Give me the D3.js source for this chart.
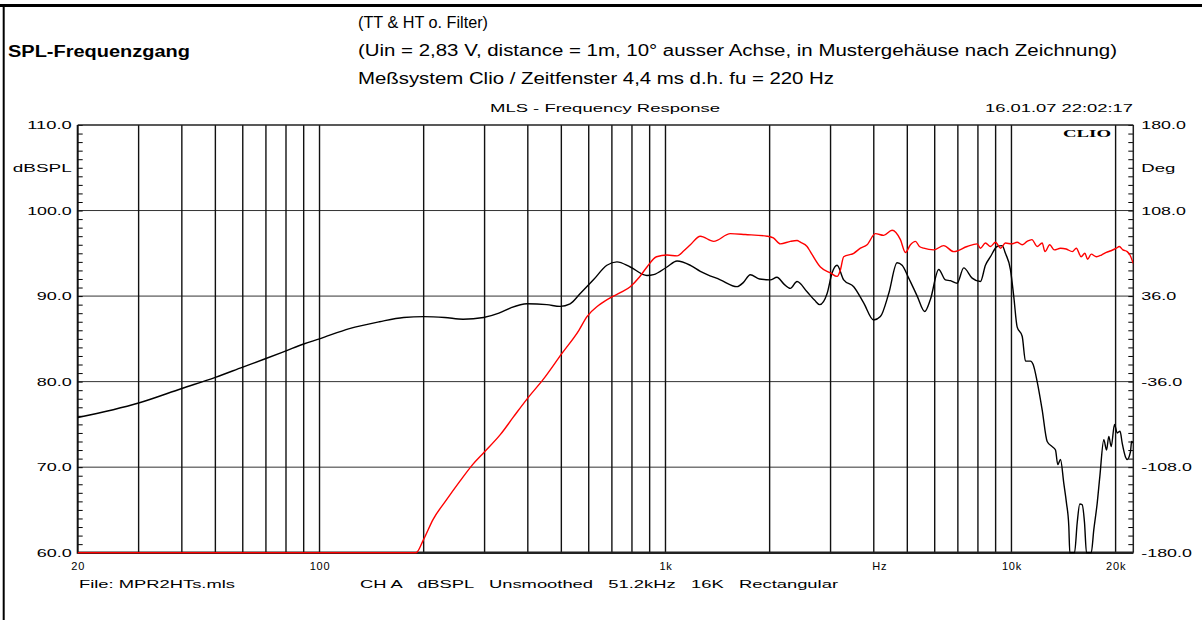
<!DOCTYPE html>
<html>
<head>
<meta charset="utf-8">
<script src="https://cdn.jsdelivr.net/npm/d3@7"></script>
<style>
body { margin: 0; background: #fff; }
svg { display: block; font-family: "Liberation Sans", Arial, sans-serif; }
</style>
</head>
<body>
<svg id="chart" width="1202" height="620"></svg>
<script>
// black curve (TT)
var ttFreq = [20, 30, 40, 50, 60, 70, 80, 90, 100, 122, 149, 175, 200, 230, 260, 298, 330, 356, 398, 454, 496, 530, 567, 619, 677, 724, 791, 884, 924, 1010, 1080, 1180, 1261, 1440, 1610, 1680, 1758, 1870, 2009, 2100, 2200, 2296, 2400, 2566, 2700, 2790, 2932, 3030, 3133, 3274, 3500, 3740, 3997, 4180, 4418, 4671, 4830, 5047, 5340, 5614, 5830, 6162, 6444, 6662, 6966, 7278, 7698, 8134, 8410, 8695, 9090, 9398, 9606, 9932, 10152, 10386, 10740, 10980, 11350, 11554, 11866, 12268, 12684, 13114, 13404, 13612, 13860, 14168, 14424, 14648, 14746, 15216, 15490, 15760, 16014, 16262, 16478, 17004, 17300, 17696, 18006, 18492, 18826, 19118, 19422, 19854, 20214, 20600, 20898, 21360, 21600, 22080, 22250, 22500];
var ttLevel = [75.8, 77.5, 79.2, 80.5, 81.7, 82.7, 83.6, 84.4, 85.0, 86.2, 87.0, 87.5, 87.6, 87.5, 87.3, 87.5, 88.0, 88.6, 89.1, 89.0, 88.8, 89.1, 90.3, 91.9, 93.6, 94.0, 93.4, 92.4, 92.5, 93.4, 94.1, 93.6, 92.9, 91.9, 91.1, 91.6, 92.5, 92.0, 91.9, 92.2, 91.4, 90.9, 91.7, 90.5, 89.5, 89.0, 90.3, 92.7, 93.6, 91.9, 91.1, 89.2, 87.2, 87.6, 90.3, 93.9, 93.6, 92.1, 90.0, 88.2, 89.6, 93.1, 91.9, 91.8, 91.5, 93.3, 92.1, 91.7, 93.6, 94.6, 95.8, 95.9, 95.0, 93.1, 90.0, 86.4, 85.3, 82.4, 82.4, 82.0, 80.0, 76.7, 73.0, 72.4, 72.0, 70.3, 70.9, 68.1, 65.8, 63.1, 60.0, 60.0, 63.5, 65.7, 65.6, 63.5, 60.0, 60.0, 62.7, 65.8, 68.9, 73.2, 72.0, 73.6, 72.4, 75.0, 74.0, 74.2, 72.8, 71.2, 70.9, 71.8, 73.0, 72.8];

// red curve (HT)
var htFreq = [20, 100, 190, 199.6, 213, 233, 254, 277, 300, 333, 364, 404, 442, 502, 562, 593, 640, 692, 740, 791, 840, 884, 942, 1010, 1080, 1130, 1180, 1261, 1378, 1540, 1700, 1966, 2050, 2148, 2296, 2400, 2454, 2566, 2622, 2804, 3000, 3133, 3200, 3274, 3500, 3660, 3826, 4043, 4272, 4518, 4776, 4938, 5105, 5278, 5420, 5577, 5961, 6371, 6810, 7446, 7960, 8134, 8410, 8695, 8990, 9300, 9606, 10000, 10386, 10740, 11100, 11460, 11866, 12268, 12500, 12900, 13300, 13860, 14400, 15000, 15400, 15900, 16300, 16600, 17000, 17600, 18200, 18800, 19400, 20100, 20500, 21000, 21600, 22000, 22500];
var htLevel = [60, 60, 60, 61.5, 63.9, 66.2, 68.3, 70.3, 71.8, 73.8, 75.9, 78.3, 80.2, 83.3, 86.0, 87.6, 88.9, 89.8, 90.4, 91.1, 92.2, 93.4, 94.6, 94.8, 94.7, 95.3, 96.0, 97.0, 96.4, 97.3, 97.2, 97.0, 96.8, 96.1, 96.4, 96.5, 96.3, 95.8, 95.2, 93.4, 92.7, 92.3, 93.0, 94.6, 95.0, 95.6, 96.0, 97.3, 97.1, 97.7, 96.6, 95.1, 96.0, 96.4, 95.8, 95.6, 95.4, 95.9, 95.2, 95.8, 96.1, 95.6, 96.2, 95.8, 96.3, 95.6, 96.2, 96.1, 96.3, 96.0, 96.4, 96.6, 95.8, 96.2, 95.2, 96.0, 95.4, 95.6, 95.5, 95.2, 95.6, 94.6, 95.0, 94.3, 94.9, 94.6, 94.8, 95.1, 95.3, 95.6, 95.8, 95.4, 95.2, 94.8, 93.8];

var gridFreqs = [30, 40, 50, 60, 70, 80, 90, 100, 200, 300, 400, 500, 600, 700, 800, 900, 1000, 2000, 3000, 4000, 5000, 6000, 7000, 8000, 9000, 10000, 20000];
var gridLevels = [70, 80, 90, 100];
var xTickValues = [20, 100, 1000, 4150, 10000, 20000];
var xTickText = ["20", "100", "1k", "Hz", "10k", "20k"];
var leftTicks = [60, 70, 80, 90, 100, 105, 110];
var leftText = ["60.0", "70.0", "80.0", "90.0", "100.0", "dBSPL", "110.0"];
var rightTicks = [-180, -108, -36, 36, 108, 144, 180];
var rightText = ["-180.0", "-108.0", "-36.0", "36.0", "108.0", "Deg", "180.0"];

var L = 77.7, R = 1133.3, T = 125, B = 552.7;

var svg = d3.select("#chart");
svg.append("rect").attr("width", 1202).attr("height", 620).attr("fill", "#fff");

var x = d3.scaleLog().domain([20, 22500]).range([L, R]);
var y = d3.scaleLinear().domain([60, 110]).range([B, T]);
var y2 = d3.scaleLinear().domain([-180, 180]).range([B, T]);

// page frame (top + left edge)
svg.append("line").attr("x1", 0).attr("x2", 1202).attr("y1", 5.5).attr("y2", 5.5)
    .attr("stroke", "#000").attr("stroke-width", 3);
svg.append("line").attr("x1", 3.7).attr("x2", 3.7).attr("y1", 4).attr("y2", 620)
    .attr("stroke", "#000").attr("stroke-width", 2);

// grid
svg.append("g").selectAll("line").data(gridLevels).join("line")
    .attr("x1", L).attr("x2", R)
    .attr("y1", function(d) { return y(d); }).attr("y2", function(d) { return y(d); })
    .attr("stroke", "#333").attr("stroke-width", 1);
svg.append("g").selectAll("line").data(gridFreqs).join("line")
    .attr("x1", function(d) { return x(d); }).attr("x2", function(d) { return x(d); })
    .attr("y1", T).attr("y2", B)
    .attr("stroke", "#111").attr("stroke-width", 1.4);

// minor ticks inside the frame
svg.append("g").attr("transform", "translate(" + L + ",0)")
    .call(d3.axisRight(y).tickValues(d3.range(60, 110.01, 1)).tickSize(5).tickFormat(""))
    .call(function(g) { g.select(".domain").remove(); });
svg.append("g").attr("transform", "translate(" + R + ",0)")
    .call(d3.axisLeft(y2).tickValues(d3.range(-180, 180.01, 7.2)).tickSize(5).tickFormat(""))
    .call(function(g) { g.select(".domain").remove(); });

// frame
svg.append("line").attr("x1", L).attr("x2", R).attr("y1", T).attr("y2", T).attr("stroke", "#222").attr("stroke-width", 1.5);
svg.append("line").attr("x1", R).attr("x2", R).attr("y1", T).attr("y2", B).attr("stroke", "#222").attr("stroke-width", 1.5);
svg.append("line").attr("x1", L).attr("x2", L).attr("y1", T).attr("y2", B + 1).attr("stroke", "#111").attr("stroke-width", 2);
svg.append("line").attr("x1", L).attr("x2", R).attr("y1", B).attr("y2", B).attr("stroke", "#222").attr("stroke-width", 2.5);

function labW(s) {
  if (s === "dBSPL") return 59;
  if (s === "Deg") return 34;
  var w = 0;
  for (var i = 0; i < s.length; i++) w += s[i] === "." ? 6.5 : (s[i] === "-" ? 6 : 9.5);
  return w;
}

// y labels
var gl = svg.append("g").attr("transform", "translate(" + (L - 6) + ",0)")
    .call(d3.axisLeft(y).tickValues(leftTicks).tickSize(0).tickPadding(0)
      .tickFormat(function(d, i) { return leftText[i]; }))
    .call(function(g) { g.select(".domain").remove(); })
    .attr("font-family", null).attr("font-size", 11);
gl.selectAll("text").attr("fill", "#000")
    .attr("textLength", function(d, i) { return labW(leftText[i]); })
    .attr("lengthAdjust", "spacingAndGlyphs");

var gr = svg.append("g").attr("transform", "translate(" + (R + 8) + ",0)")
    .call(d3.axisRight(y2).tickValues(rightTicks).tickSize(0).tickPadding(0)
      .tickFormat(function(d, i) { return rightText[i]; }))
    .call(function(g) { g.select(".domain").remove(); })
    .attr("font-family", null).attr("font-size", 11);
gr.selectAll("text").attr("fill", "#000")
    .attr("textLength", function(d, i) { return labW(rightText[i]); })
    .attr("lengthAdjust", "spacingAndGlyphs");

// x labels
var gx = svg.append("g").attr("transform", "translate(0," + B + ")")
    .call(d3.axisBottom(x).tickValues(xTickValues).tickSize(0).tickPadding(10)
      .tickFormat(function(d, i) { return xTickText[i]; }))
    .call(function(g) { g.select(".domain").remove(); })
    .attr("font-family", null).attr("font-size", 11);
gx.selectAll("text").attr("fill", "#000").attr("letter-spacing", 0.8);

// curves
svg.append("clipPath").attr("id", "plotclip").append("rect")
    .attr("x", L).attr("y", T).attr("width", R - L).attr("height", B - T + 1);

var lineGen = d3.line()
    .x(function(p) { return x(p[0]); })
    .y(function(p) { return y(p[1]); })
    .curve(d3.curveMonotoneX);

var tt = ttFreq.map(function(f, i) { return [f, ttLevel[i]]; });
var ht = htFreq.map(function(f, i) { return [f, htLevel[i]]; });

svg.append("path").attr("d", lineGen(tt)).attr("clip-path", "url(#plotclip)")
    .attr("fill", "none").attr("stroke", "#000").attr("stroke-width", 1.4);
svg.append("path").attr("d", lineGen(ht)).attr("clip-path", "url(#plotclip)")
    .attr("fill", "none").attr("stroke", "#f00").attr("stroke-width", 1.4);

// texts
function label(s, x0, y0, len, size, opt) {
  opt = opt || {};
  var t = svg.append("text").attr("x", x0).attr("y", y0).text(s)
      .attr("font-size", size).attr("fill", "#000")
      .attr("text-anchor", opt.anchor || "start");
  if (len) t.attr("textLength", len).attr("lengthAdjust", "spacingAndGlyphs");
  if (opt.bold) t.attr("font-weight", "bold");
  if (opt.family) t.attr("font-family", opt.family);
  if (opt.pre) t.style("white-space", "pre");
  return t;
}

label("(TT & HT o. Filter)", 358, 28, 130, 16);
label("SPL-Frequenzgang", 8, 57, 182, 16, { bold: true });
label("(Uin = 2,83 V, distance = 1m, 10° ausser Achse, in Mustergehäuse nach Zeichnung)", 358, 56, 759, 16);
label("Meßsystem Clio / Zeitfenster 4,4 ms d.h. fu = 220 Hz", 358, 84, 476, 16);
label("MLS - Frequency Response", 490, 112, 230, 11);
label("16.01.07 22:02:17", 1133, 112, 148, 11, { anchor: "end" });
label("CLIO", 1111, 137, 48, 11, { anchor: "end", bold: true, family: "'Liberation Serif', 'DejaVu Serif', serif" });
label("File: MPR2HTs.mls", 79, 588, 156, 11);
label("CH A   dBSPL   Unsmoothed   51.2kHz   16K   Rectangular", 360, 588, 478, 11, { pre: true });
</script>
</body>
</html>
